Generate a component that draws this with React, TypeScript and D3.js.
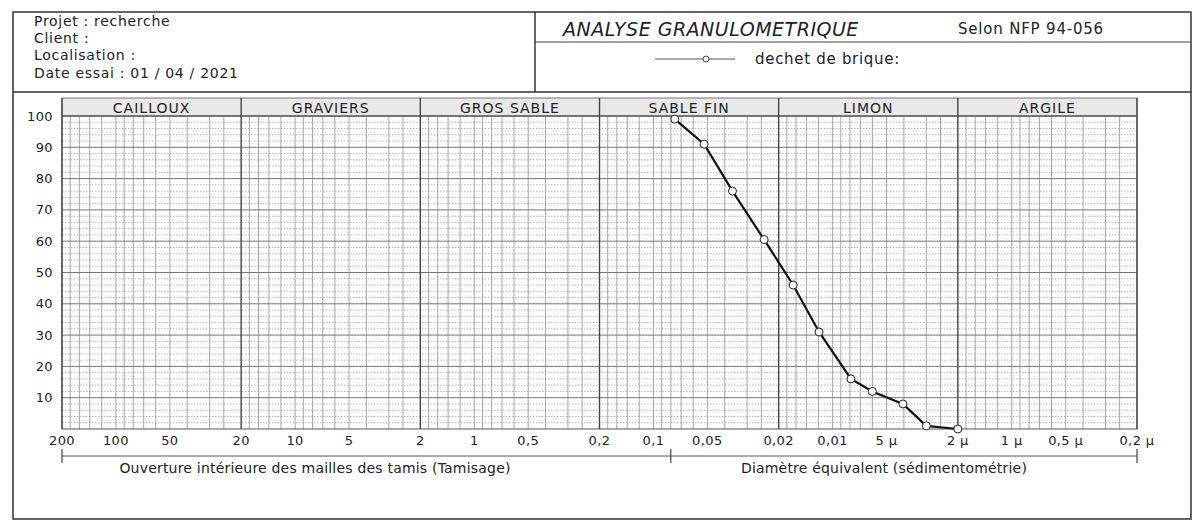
import React from "react";
import * as d3 from "d3";

// ---- data ----
const sizesMm = [0.076, 0.0521, 0.0362, 0.0241, 0.0166, 0.0119, 0.0079, 0.006, 0.00405, 0.003, 0.002];
const passing = [99, 91, 76, 60.5, 46, 31, 16, 12, 8, 1, 0];

const zoneNames = ["CAILLOUX", "GRAVIERS", "GROS SABLE", "SABLE FIN", "LIMON", "ARGILE"];
const zoneBounds = [200, 20, 2, 0.2, 0.02, 0.002, 0.0002];

const xTickValues = [200, 100, 50, 20, 10, 5, 2, 1, 0.5, 0.2, 0.1, 0.05, 0.02, 0.01, 0.005, 0.002, 0.001, 0.0005, 0.0002];
const xTickLabels = ["200", "100", "50", "20", "10", "5", "2", "1", "0,5", "0,2", "0,1", "0,05", "0,02", "0,01", "5 µ", "2 µ", "1 µ", "0,5 µ", "0,2 µ"];
const yTickValues = [10, 20, 30, 40, 50, 60, 70, 80, 90, 100];

const headerLines = ["Projet : recherche", "Client :", "Localisation :", "Date essai : 01 / 04 / 2021"];
const seriesName = "dechet de brique:";
const bracketTicks = [200, 0.08, 0.0002];

const gridMultipliers = [1, 1.2, 1.4, 1.6, 1.8, 2.5, 3, 4, 5, 6, 7, 8, 9];

const FONT = "'DejaVu Sans', Verdana, sans-serif";

export default function App() {
  const W = 1194, H = 521;
  const left = 62, right = 1137, top = 116, bottom = 429, bandTop = 98;
  const x = d3.scaleLog().domain([200, 0.0002]).range([left, right]);
  const y = d3.scaleLinear().domain([0, 100]).range([bottom, top]);

  const minorX: number[] = [];
  for (let n = -4; n <= 2; n++) {
    for (const m of gridMultipliers) {
      const v = m * Math.pow(10, n);
      if (v < 200 && v > 0.0002 && Math.abs(m - 2) > 1e-9) minorX.push(v);
    }
  }
  const minorY = d3.range(0, 100, 2).filter((v) => v % 10 !== 0);
  const pts = sizesMm.map((s, i) => [x(s), y(passing[i])] as [number, number]);
  const line = d3.line();

  return (
    <svg width={W} height={H} style={{ position: "absolute", left: 0, top: 0, background: "#fff" }} fontFamily={FONT}>
      {/* outer frame */}
      <rect x={13} y={12} width={1178} height={507} fill="none" stroke="#333" strokeWidth={1.5} />
      {/* header */}
      <line x1={13} x2={1191} y1={92} y2={92} stroke="#333" strokeWidth={1.5} />
      <line x1={535} x2={535} y1={12} y2={92} stroke="#333" strokeWidth={1.5} />
      <line x1={535} x2={1191} y1={42} y2={42} stroke="#444" strokeWidth={1.2} />
      {headerLines.map((t, i) => (
        <text key={t} x={34} y={[26, 43, 60, 78][i]} fontSize={14} letterSpacing={0.7} fill="#222">{t}</text>
      ))}
      <text x={563} y={36} fontSize={19} letterSpacing={0.5} fontStyle="italic" fill="#222">ANALYSE GRANULOMETRIQUE</text>
      <text x={958} y={34} fontSize={15} letterSpacing={0.8} fill="#222">Selon NFP 94-056</text>
      <line x1={655} x2={735} y1={59} y2={59} stroke="#555" strokeWidth={1} />
      <circle cx={706} cy={59} r={3} fill="#fff" stroke="#444" strokeWidth={1} />
      <text x={755} y={59} dy="0.35em" fontSize={15} letterSpacing={0.7} fill="#222">{seriesName}</text>

      {/* band of zones */}
      <rect x={left} y={bandTop} width={right - left} height={top - bandTop} fill="#e9e9e9" stroke="#777" strokeWidth={1} />
      {zoneNames.map((z, i) => (
        <text key={z} x={(x(zoneBounds[i]) + x(zoneBounds[i + 1])) / 2} y={(bandTop + top) / 2 + 1} dy="0.35em"
          textAnchor="middle" fontSize={14} letterSpacing={1} fill="#222">{z}</text>
      ))}

      {/* grid */}
      {minorY.map((v) => (
        <line key={"my" + v} x1={left} x2={right} y1={y(v)} y2={y(v)} stroke="#a5a5a5" strokeWidth={0.8} strokeDasharray="1.5 1.5" />
      ))}
      {minorX.map((v, i) => (
        <line key={"mx" + i} x1={x(v)} x2={x(v)} y1={top} y2={bottom} stroke="#8f8f8f" strokeWidth={0.8} />
      ))}
      {yTickValues.map((v) => (
        <line key={"gy" + v} x1={left} x2={right} y1={y(v)} y2={y(v)} stroke="#777" strokeWidth={1} />
      ))}
      {zoneBounds.map((v) => (
        <line key={"zb" + v} x1={x(v)} x2={x(v)} y1={bandTop} y2={bottom} stroke="#444" strokeWidth={1.4} />
      ))}
      <rect x={left} y={top} width={right - left} height={bottom - top} fill="none" stroke="#555" strokeWidth={1} />

      {/* y labels */}
      {yTickValues.map((v) => (
        <text key={"yl" + v} x={53} y={y(v)} dy="0.35em" textAnchor="end" fontSize={13} letterSpacing={0.4} fill="#222">{v}</text>
      ))}
      {/* x labels */}
      {xTickValues.map((v, i) => (
        <text key={"xl" + i} x={x(v)} y={440} dy="0.35em" textAnchor="middle" fontSize={13} letterSpacing={0.4} fill="#222">{xTickLabels[i]}</text>
      ))}

      {/* bracket */}
      <line x1={x(200)} x2={x(0.0002)} y1={456} y2={456} stroke="#555" strokeWidth={1} />
      {bracketTicks.map((v) => (
        <line key={"bt" + v} x1={x(v)} x2={x(v)} y1={449} y2={463} stroke="#444" strokeWidth={1.2} />
      ))}
      <text x={315} y={468} dy="0.35em" textAnchor="middle" fontSize={14} letterSpacing={0.2} fill="#222">
        Ouverture intérieure des mailles des tamis (Tamisage)
      </text>
      <text x={884} y={468} dy="0.35em" textAnchor="middle" fontSize={14} letterSpacing={0.2} fill="#222">
        Diamètre équivalent (sédimentométrie)
      </text>

      {/* curve */}
      <path d={line(pts) || ""} fill="none" stroke="#111" strokeWidth={2.2} />
      {pts.map((p, i) => (
        <circle key={"p" + i} cx={p[0]} cy={p[1]} r={4} fill="#fff" stroke="#222" strokeWidth={1} />
      ))}
    </svg>
  );
}
